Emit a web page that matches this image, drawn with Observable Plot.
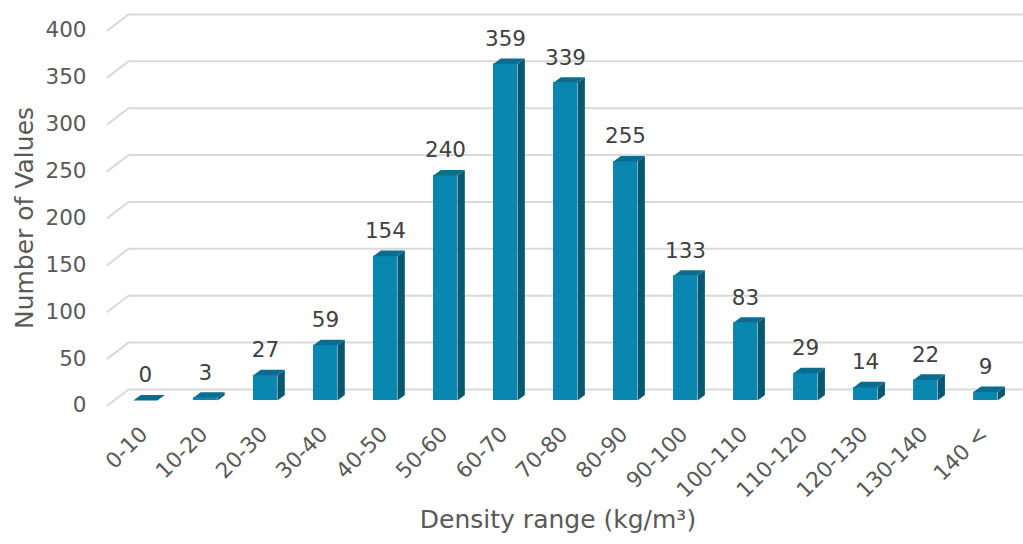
<!DOCTYPE html>
<html>
<head>
<meta charset="utf-8">
<script src="https://cdn.jsdelivr.net/npm/d3@7"></script>
<script src="https://cdn.jsdelivr.net/npm/@observablehq/plot@0.6"></script>
<style>
  html, body { margin: 0; padding: 0; background: #ffffff; }
  #chart svg { display: block; }
</style>
</head>
<body>
<div id="chart"></div>
<script>
// Density classes and how many values fall in each
const categories = ["0-10", "10-20", "20-30", "30-40", "40-50", "50-60", "60-70", "70-80",
  "80-90", "90-100", "100-110", "110-120", "120-130", "130-140", "140 <"];
const counts = [0, 3, 27, 59, 154, 240, 359, 339, 255, 133, 83, 29, 14, 22, 9];
const yTicks = [0, 50, 100, 150, 200, 250, 300, 350, 400];
const yTitle = "Number of Values";
const xTitle = "Density range (kg/m³)";

// 3-D look: a depth step d moves a point right and up by (DX, DY) in data units
const xDomain = [-0.523, 14.39];
const yDomain = [0, 400];
const DX = 0.35;       // horizontal shift of the back wall (x units)
const DY = 17.07;      // vertical shift of the back wall (y units)
const D0 = 0.31, D1 = 0.66;  // front and back depth of each column
const HALF = 0.2;      // half column width (x units)

const P = (x, v, d, key) => ({x: x + d * DX, y: v + d * DY, key});

// Gridlines: a short slanted floor/wall edge on the left, then along the back wall
const grid = yTicks.flatMap((t) => [
  P(xDomain[0], t, 0, t),
  P(xDomain[0], t, 1, t),
  P(xDomain[1], t, 1, t)
]);

const bars = counts.map((v, i) => ({i, v, c: categories[i]}));

const sideFaces = bars.flatMap(({i, v}) => [
  P(i + HALF, 0, D0, i), P(i + HALF, 0, D1, i), P(i + HALF, v, D1, i), P(i + HALF, v, D0, i)
]);
const topFaces = bars.flatMap(({i, v}) => [
  P(i - HALF, v, D0, i), P(i + HALF, v, D0, i), P(i + HALF, v, D1, i), P(i - HALF, v, D1, i)
]);

const font = "'DejaVu Sans', sans-serif";

const chart = Plot.plot({
  width: 1023,
  height: 544,
  marginLeft: 107,
  marginRight: 21,
  marginTop: 30,
  marginBottom: 139,
  style: {fontFamily: font, fontSize: "21px", background: "#ffffff", overflow: "visible"},
  x: {type: "linear", domain: xDomain, axis: null},
  y: {type: "linear", domain: yDomain, axis: null},
  marks: [
    Plot.line(grid, {x: "x", y: "y", z: "key", stroke: "#d9d9d9", strokeWidth: 2}),
    Plot.axisY({ticks: yTicks, tickSize: 0, tickPadding: 21, fill: "#595959", fontSize: 21.5, label: null}),
    // column front faces
    Plot.rect(bars, {
      x1: (d) => d.i - HALF + D0 * DX, x2: (d) => d.i + HALF + D0 * DX,
      y1: D0 * DY, y2: (d) => d.v + D0 * DY,
      fill: "#0a87b0"
    }),
    // column side faces
    Plot.line(sideFaces, {x: "x", y: "y", z: "key", curve: "linear-closed", fill: "#07586f", stroke: "none"}),
    // column top faces
    Plot.line(topFaces, {x: "x", y: "y", z: "key", curve: "linear-closed", fill: "#0a6d8f", stroke: "none"}),
    // value labels
    Plot.text(bars, {
      x: (d) => d.i + D0 * DX, y: (d) => d.v + D0 * DY, text: (d) => String(d.v),
      dy: -25, fill: "#404040", fontSize: 21.5
    }),
    // category labels
    Plot.text(bars, {
      x: "i", text: "c", frameAnchor: "bottom", dx: 10, dy: 30,
      rotate: -45, textAnchor: "end", fill: "#595959", fontSize: 21.5
    }),
    Plot.text([yTitle], {
      text: (d) => d, frameAnchor: "left", dx: -83, rotate: -90,
      textAnchor: "middle", fill: "#595959", fontSize: 25
    }),
    Plot.text([xTitle], {
      text: (d) => d, frameAnchor: "bottom", dx: 3, dy: 122,
      textAnchor: "middle", fill: "#595959", fontSize: 25
    })
  ]
});

document.getElementById("chart").appendChild(chart);
</script>
</body>
</html>
